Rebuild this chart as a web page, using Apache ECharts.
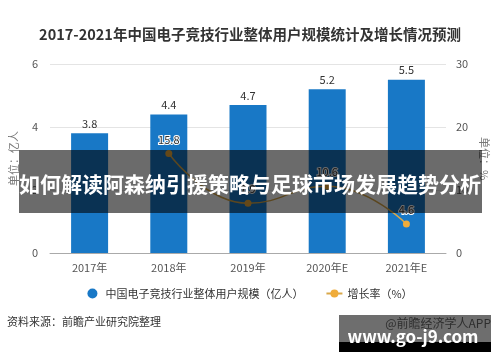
<!DOCTYPE html>
<html><head><meta charset="utf-8">
<script src="https://cdn.jsdelivr.net/npm/echarts@6/dist/echarts.min.js"></script>
<style>html,body{margin:0;padding:0;background:#fff;}#c{width:500px;height:362px;}</style>
</head><body><div id="c"></div>
<script>
const categories = ['2017年','2018年','2019年','2020年E','2021年E'];
const userScale = [3.8, 4.4, 4.7, 5.2, 5.5];
const growthRate = [null, 15.8, 7.9, 10.6, 4.6];
const leftTicks = {min:0, max:6, interval:2};
const rightTicks = {min:0, max:30, interval:10};
const barName = '中国电子竞技行业整体用户规模（亿人）';
const lineName = '增长率（%）';
const titleText = '2017-2021年中国电子竞技行业整体用户规模统计及增长情况预测';
const overlayText = '如何解读阿森纳引援策略与足球市场发展趋势分析';
const sourceText = '资料来源：前瞻产业研究院整理';

const FF = '"Noto Sans CJK SC","Noto Sans",sans-serif';
const chart = echarts.init(document.getElementById('c'));
chart.setOption({
  animation:false,
  textStyle:{fontFamily:FF},
  title:{text:titleText,left:'center',top:22,textStyle:{fontSize:14.5,fontWeight:'bold',color:'#333',fontFamily:FF}},
  grid:{left:50,right:54,top:64,bottom:109},
  legend:{bottom:58,left:'center',itemGap:22,itemWidth:16,itemHeight:10,
    textStyle:{fontSize:11,color:'#333',fontFamily:FF},
    data:[{name:barName,icon:'circle'},{name:lineName}]},
  xAxis:{type:'category',data:categories,
    axisLine:{lineStyle:{color:'#aaa'}},
    axisTick:{alignWithLabel:true,length:5,lineStyle:{color:'#aaa'}},
    axisLabel:{color:'#555',fontSize:11,margin:9}},
  yAxis:[
    {type:'value',min:leftTicks.min,max:leftTicks.max,interval:leftTicks.interval,
     name:'单位：亿人',nameLocation:'middle',nameGap:31,nameTextStyle:{color:'#777',fontSize:11},
     axisLabel:{color:'#555',fontSize:11,margin:12},
     splitLine:{lineStyle:{color:'#e4e4e4'}},axisLine:{show:false},axisTick:{show:false}},
    {type:'value',min:rightTicks.min,max:rightTicks.max,interval:rightTicks.interval,
     name:'单位：%',nameLocation:'middle',nameGap:33,nameRotate:-90,nameTextStyle:{color:'#777',fontSize:11},
     axisLabel:{color:'#555',fontSize:11,margin:10},
     splitLine:{show:false},axisLine:{show:false},axisTick:{show:false}}
  ],
  series:[
    {name:barName,type:'bar',data:userScale,barWidth:37,yAxisIndex:0,
     itemStyle:{color:'#1878c6'},
     label:{show:true,position:'top',color:'#333',fontSize:11,distance:4}},
    {name:lineName,type:'line',data:growthRate,yAxisIndex:1,smooth:true,
     symbol:'circle',symbolSize:7,
     lineStyle:{color:'#d9a84a',width:1.5},itemStyle:{color:'#f0ac3a'},
     label:{show:true,position:'top',color:'#333',fontSize:11,textBorderColor:'#fff',textBorderWidth:2}}
  ],
  graphic:[
    {type:'text',left:7,top:316,style:{text:sourceText,fill:'#333',font:'11px '+FF}},
    {type:'rect',shape:{x:19,y:150,width:463,height:63},style:{fill:'rgba(0,0,0,0.58)'},z:100},
    {type:'text',x:250,y:184,style:{text:overlayText,fill:'#fff',font:'bold 21px '+FF,textAlign:'center',textVerticalAlign:'middle'},z:101},
    {type:'rect',shape:{x:339,y:315,width:152,height:27},style:{fill:'#6e6e6e'},z:100},
    {type:'rect',shape:{x:339,y:342,width:152,height:10},style:{fill:'#000'},z:100},
    {type:'text',x:491,y:323,style:{text:'@前瞻经济学人APP',fill:'#2e2e2e',font:'12px '+FF,textAlign:'right',textVerticalAlign:'middle'},z:101},
    {type:'text',x:413,y:337,style:{text:'www.go-j9.com',fill:'#fff',font:'bold 17px '+FF,textAlign:'center',textVerticalAlign:'middle'},z:102}
  ]
});
</script></body></html>
